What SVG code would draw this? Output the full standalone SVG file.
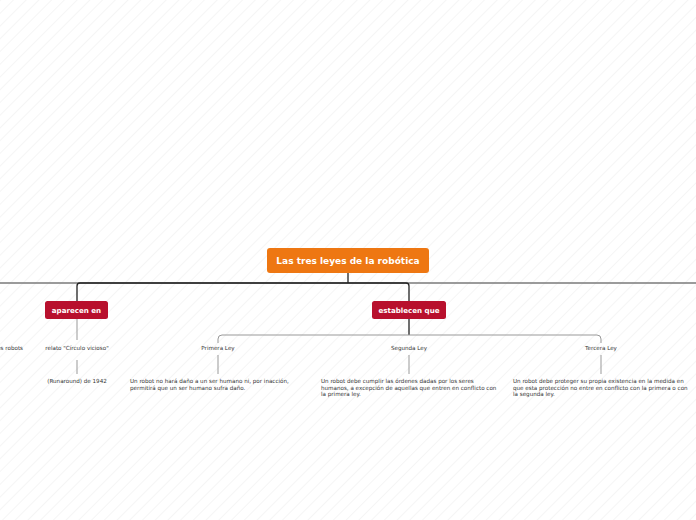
<svg xmlns="http://www.w3.org/2000/svg" width="696" height="520" viewBox="0 0 696 520">
<defs>
<pattern id="hatch" width="9" height="9" patternUnits="userSpaceOnUse" patternTransform="rotate(45)">
<line x1="0" y1="0" x2="0" y2="9" stroke="#ebebeb" stroke-width="1"/>
</pattern>
<style>
.root{fill:#ee7712}
.main{fill:#b8102d}
.bt{font-family:"DejaVu Sans",Verdana,sans-serif;font-weight:bold;fill:#ffffff;text-anchor:middle}
.lbl{font-family:"DejaVu Sans",Verdana,sans-serif;font-size:5.6px;fill:#333333;text-anchor:middle}
.desc{font-family:"DejaVu Sans",Verdana,sans-serif;font-size:5.6px;fill:#333333}
.dark{stroke:#222;stroke-width:1.3;fill:none}
.gray{stroke:#7a7a7a;stroke-width:1.6;fill:none}
.thin{stroke:#999;stroke-width:1;fill:none}
</style>
</defs>
<rect width="696" height="520" fill="#ffffff"/>
<rect width="696" height="520" fill="url(#hatch)"/>
<g id="connectors">
<line class="gray" x1="0" y1="283" x2="696" y2="283"/>
<path class="dark" d="M348 273 V283"/>
<path class="dark" d="M77 301 V286 Q77 283 80 283 H406 Q409 283 409 286 V301"/>
<path class="thin" d="M77 319 V340"/>
<path class="thin" d="M77 360 V374"/>
<path class="dark" d="M409 319 V335"/>
<path class="thin" d="M218 343 V339 Q218 335 222 335 H597 Q601 335 601 339 V343"/>
<path class="thin" d="M218 355 V374"/>
<path class="thin" d="M409 355 V374"/>
<path class="thin" d="M601 355 V374"/>
</g>
<g id="root">
<rect class="root" x="267" y="248" width="162" height="25" rx="3"/>
<text class="bt" x="348" y="264" font-size="9">Las tres leyes de la robótica</text>
</g>
<g id="aparecen">
<rect class="main" x="45" y="301" width="63" height="18" rx="2.5"/>
<text class="bt" x="76.5" y="312.6" font-size="7.1">aparecen en</text>
</g>
<g id="establecen">
<rect class="main" x="372" y="301" width="74" height="18" rx="2.5"/>
<text class="bt" x="409" y="312.6" font-size="7.1">establecen que</text>
</g>
<g id="robots">
<text class="lbl" x="23" y="350" style="text-anchor:end">es robots</text>
</g>
<g id="relato">
<text class="lbl" x="77" y="350">relato "Círculo vicioso"</text>
</g>
<g id="runaround">
<text class="lbl" x="77" y="383">(Runaround) de 1942</text>
</g>
<g id="primera">
<text class="lbl" x="218" y="350">Primera Ley</text>
</g>
<g id="segunda">
<text class="lbl" x="409" y="350">Segunda Ley</text>
</g>
<g id="tercera">
<text class="lbl" x="601" y="350">Tercera Ley</text>
</g>
<g id="primera-desc">
<text class="desc" x="130" y="383">Un robot no hará daño a un ser humano ni, por inacción,</text>
<text class="desc" x="130" y="389.5">permitirá que un ser humano sufra daño.</text>
</g>
<g id="segunda-desc">
<text class="desc" x="321" y="383">Un robot debe cumplir las órdenes dadas por los seres</text>
<text class="desc" x="321" y="389.5">humanos, a excepción de aquellas que entren en conflicto con</text>
<text class="desc" x="321" y="396">la primera ley.</text>
</g>
<g id="tercera-desc">
<text class="desc" x="513" y="383">Un robot debe proteger su propia existencia en la medida en</text>
<text class="desc" x="513" y="389.5">que esta protección no entre en conflicto con la primera o con</text>
<text class="desc" x="513" y="396">la segunda ley.</text>
</g>
</svg>
